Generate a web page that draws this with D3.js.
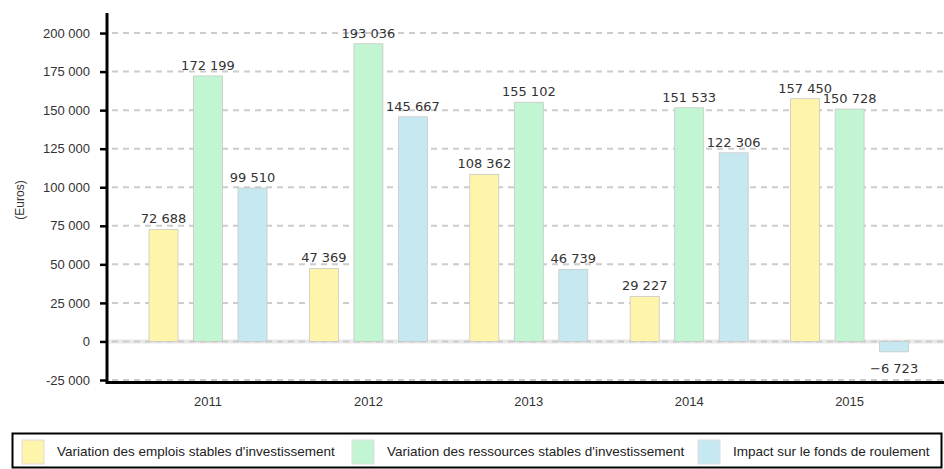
<!DOCTYPE html>
<html>
<head>
<meta charset="utf-8">
<script src="https://cdn.jsdelivr.net/npm/d3@7"></script>
<style>
  body { margin: 0; background: #fff; }
  svg { display: block; }
</style>
</head>
<body>
<div id="chart"></div>
<script>
const YEARS = ["2011", "2012", "2013", "2014", "2015"];
const SERIES = [
  "Variation des emplois stables d'investissement",
  "Variation des ressources stables d'investissement",
  "Impact sur le fonds de roulement"
];
const EMPLOIS = [72688, 47369, 108362, 29227, 157450];
const RESSOURCES = [172199, 193036, 155102, 151533, 150728];
const IMPACT = [99510, 145667, 46739, 122306, -6723];
const Y_TICKS = [-25000, 0, 25000, 50000, 75000, 100000, 125000, 150000, 175000, 200000];
const COLORS = ["#fff5aa", "#c2f5d2", "#c6e9f1"];

const WIDTH = 944, HEIGHT = 469;
const values = [EMPLOIS, RESSOURCES, IMPACT];

const locale = d3.formatLocale({ decimal: ",", thousands: "\u00a0", grouping: [3], currency: ["", " €"], minus: "-" });
const fmt = locale.format(",d");

const svg = d3.select("#chart").append("svg")
  .attr("width", WIDTH)
  .attr("height", HEIGHT);

const y = d3.scaleLinear().domain([-26300, 213000]).range([382, 13]);
const x0 = d3.scaleBand().domain(YEARS).range([128, 930]);
const x1 = d3.scaleBand().domain(d3.range(SERIES.length)).range([21, 139]).paddingInner(0.348);

// grid
const grid = svg.append("g");
grid.append("line")
  .attr("x1", 109).attr("x2", WIDTH)
  .attr("y1", y(0)).attr("y2", y(0))
  .attr("stroke", "#e8e8e8").attr("stroke-width", 4);
grid.selectAll("line.g")
  .data(Y_TICKS)
  .join("line")
  .attr("class", "g")
  .attr("x1", 112).attr("x2", WIDTH)
  .attr("y1", d => y(d)).attr("y2", d => y(d))
  .attr("stroke", "#cccccc")
  .attr("stroke-width", 2)
  .attr("stroke-dasharray", "6,5");

// bars
const rows = YEARS.map((yr, i) => values.map((s, k) => ({ year: yr, k, v: s[i] })));
const groups = svg.append("g").selectAll("g")
  .data(rows)
  .join("g")
  .attr("transform", (d, i) => `translate(${x0(YEARS[i])},0)`);

groups.selectAll("rect")
  .data(d => d)
  .join("rect")
  .attr("x", d => x1(d.k))
  .attr("width", x1.bandwidth())
  .attr("y", d => y(Math.max(0, d.v)))
  .attr("height", d => Math.abs(y(d.v) - y(0)))
  .attr("fill", d => COLORS[d.k])
  .attr("stroke", "#c8c8c8")
  .attr("stroke-width", 0.8);

groups.selectAll("text")
  .data(d => d)
  .join("text")
  .attr("x", d => x1(d.k) + x1.bandwidth() / 2)
  .attr("y", d => d.v >= 0 ? y(d.v) - 6 : y(d.v) + 21)
  .attr("text-anchor", "middle")
  .attr("font-family", "DejaVu Sans, sans-serif")
  .attr("font-size", 13)
  .attr("fill", "#333")
  .text(d => d.v < 0 ? "\u2212" + fmt(-d.v) : fmt(d.v));

// y axis
const yAxis = svg.append("g")
  .attr("transform", "translate(107,0)")
  .call(d3.axisLeft(y).tickValues(Y_TICKS).tickSize(7).tickPadding(10).tickFormat(fmt));
yAxis.select(".domain").remove();
yAxis.selectAll(".tick line").attr("stroke", "#000").attr("stroke-width", 2.5);
yAxis.selectAll(".tick text")
  .attr("font-family", "Liberation Sans, Arial, sans-serif")
  .attr("font-size", 13)
  .attr("fill", "#333");
svg.append("line")
  .attr("x1", 107).attr("x2", 107)
  .attr("y1", 13).attr("y2", 384)
  .attr("stroke", "#000").attr("stroke-width", 3);

// x axis
svg.append("line")
  .attr("x1", 106).attr("x2", WIDTH)
  .attr("y1", 382.5).attr("y2", 382.5)
  .attr("stroke", "#000").attr("stroke-width", 3);
svg.append("g").selectAll("text")
  .data(YEARS)
  .join("text")
  .attr("x", d => x0(d) + 80)
  .attr("y", 406)
  .attr("text-anchor", "middle")
  .attr("font-family", "Liberation Sans, Arial, sans-serif")
  .attr("font-size", 13)
  .attr("fill", "#333")
  .text(d => d);

svg.append("text")
  .attr("transform", "translate(24,200) rotate(-90)")
  .attr("text-anchor", "middle")
  .attr("font-family", "Liberation Sans, Arial, sans-serif")
  .attr("font-size", 12)
  .attr("fill", "#333")
  .text("(Euros)");

// legend
const legend = svg.append("g");
legend.append("rect")
  .attr("x", 12.5).attr("y", 433.5)
  .attr("width", 929).attr("height", 34)
  .attr("fill", "#fff")
  .attr("stroke", "#000").attr("stroke-width", 2);
const LEG_X = [22, 352, 698];
const items = legend.selectAll("g")
  .data(SERIES)
  .join("g")
  .attr("transform", (d, i) => `translate(${LEG_X[i]},440)`);
items.append("rect")
  .attr("width", 22).attr("height", 24)
  .attr("fill", (d, i) => COLORS[i])
  .attr("stroke", "#ddd");
items.append("text")
  .attr("x", 35).attr("y", 16)
  .attr("font-family", "Liberation Sans, Arial, sans-serif")
  .attr("font-size", 13.5)
  .attr("fill", "#222")
  .text(d => d);
</script>
</body>
</html>
